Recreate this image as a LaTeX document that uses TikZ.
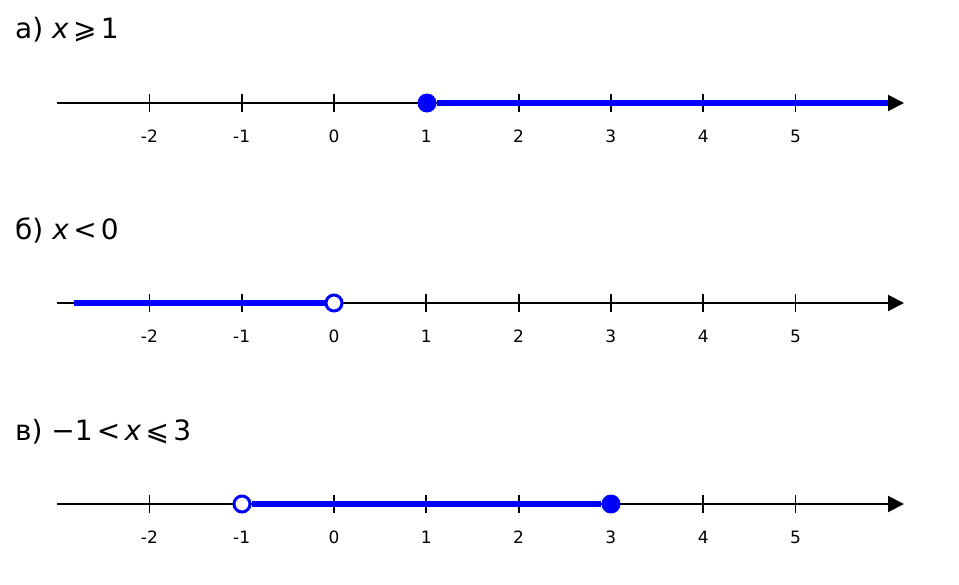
\documentclass[tikz,border=0pt]{standalone}
\usepackage{fontspec}
\setmainfont{DejaVu Sans}
\usetikzlibrary{arrows.meta}

\begin{document}
\begin{tikzpicture}[
    x=1pt, y=1pt,
    axis/.style={line width=2pt, -{Triangle[length=16pt, width=16pt]}},
    ray/.style={line width=5.5pt, blue},
    tickmark/.style={line width=1.8pt},
    ticklabel/.style={font=\fontsize{17}{18}\selectfont, anchor=base, inner sep=0pt},
    title/.style={font=\fontsize{28}{30}\selectfont, anchor=base west, inner sep=0pt},
    filled/.style={circle, fill=blue, minimum size=19pt, inner sep=0pt},
    hollow/.style={circle, draw=blue, fill=white, line width=3pt, minimum size=16pt, inner sep=0pt}
]
\useasboundingbox (0,0) rectangle (959,-584);

% a) x >= 1
\node[title] (ta) at (15,-38) {а) \textit{x}\kern0.15em⩾\kern0.15em1};
\coordinate (astart) at (57,-103);
\coordinate (aend) at (904,-103);
\coordinate (aray) at (888,-103);
\draw[axis] (astart) -- (aend);
\foreach \v in {-2,...,5} {
    \draw[tickmark] ({334+92.3*\v},-94) -- ++(0,-18);
    \node[ticklabel] (la\v) at ({334+92.3*\v},-142) {\v};
}
\node[filled] (a1) at (427,-103) {};
\draw[ray] (a1) -- (aray);

% b) x < 0
\node[title] (tb) at (15,-239) {б) \textit{x}\kern0.15em<\kern0.15em0};
\coordinate (bstart) at (57,-303);
\coordinate (bend) at (904,-303);
\coordinate (bray) at (74,-303);
\draw[axis] (bstart) -- (bend);
\foreach \v in {-2,...,5} {
    \draw[tickmark] ({334+92.3*\v},-294) -- ++(0,-18);
    \node[ticklabel] (lb\v) at ({334+92.3*\v},-342) {\v};
}
\node[hollow] (b0) at (334,-303) {};
\draw[ray] (bray) -- (b0);

% c) -1 < x <= 3
\node[title] (tc) at (15,-440) {в) −1\kern0.15em<\kern0.15em\textit{x}\kern0.15em⩽\kern0.15em3};
\coordinate (cstart) at (57,-504);
\coordinate (cend) at (904,-504);
\draw[axis] (cstart) -- (cend);
\foreach \v in {-2,...,5} {
    \draw[tickmark] ({334+92.3*\v},-495) -- ++(0,-18);
    \node[ticklabel] (lc\v) at ({334+92.3*\v},-543) {\v};
}
\node[hollow] (cm1) at (242,-504) {};
\node[filled] (c3) at (611,-504) {};
\draw[ray] (cm1) -- (c3);

\end{tikzpicture}
\end{document}
